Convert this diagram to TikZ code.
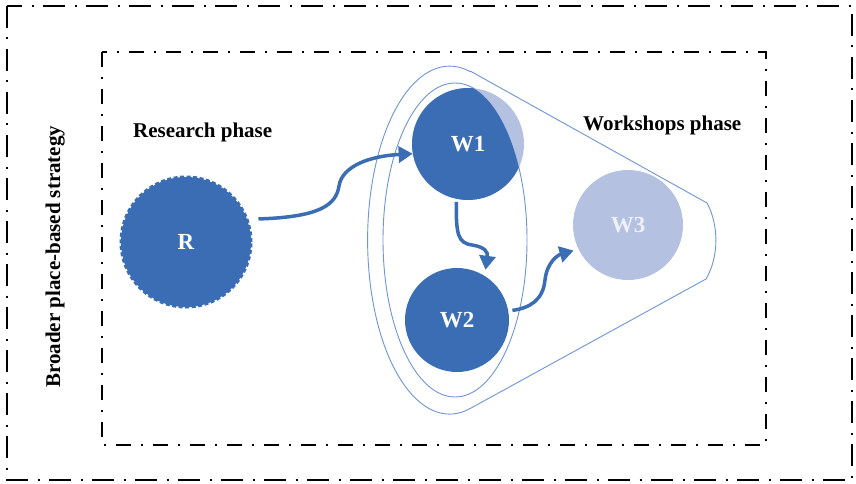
\documentclass[tikz,border=0pt]{standalone}
\usepackage{fontspec}
\setmainfont{Liberation Serif}
\usetikzlibrary{arrows.meta}
\definecolor{darkb}{HTML}{3B6DB5}
\definecolor{lightb}{HTML}{B4C1E1}
\definecolor{lineb}{HTML}{6F95D5}
\definecolor{paletxt}{HTML}{EEF1F8}
\begin{document}
\begin{tikzpicture}[x=1pt,y=-1pt,
  outerbox/.style={draw=black,line width=1.1pt,dash pattern=on 22pt off 9.5pt on 2pt off 9.5pt},
  innerbox/.style={draw=black,line width=1.1pt,dash pattern=on 15pt off 10pt on 2pt off 10pt},
  thinline/.style={draw=lineb,line width=0.9pt},
  wnode/.style={circle,inner sep=0pt,text=white,font=\fontsize{23}{26}\selectfont\bfseries},
  label/.style={font=\fontsize{21}{24}\selectfont\bfseries,inner sep=0pt},
  arr/.style={draw=darkb,line width=3.5pt,-{Triangle[length=14pt,width=16pt]}}]
\useasboundingbox (0,0) rectangle (856,484);
\fill[white] (0,0) rectangle (856,484);
\draw[outerbox] (7,6) rectangle (852,480);
\draw[innerbox] (102,52) rectangle (766,445);
% cone and inner ellipse
\draw[thinline] (470.5,71.2) -- (707,203) .. controls (719,225) and (719,257) .. (706,279)
  -- (470,408.6) arc[start angle=75.6, end angle=284.5, x radius=82, y radius=174] -- cycle;
\draw[thinline] (455,240) ellipse [x radius=72, y radius=157];
% W1: light full circle, dark part clipped by inner ellipse
\fill[lightb] (468,144) circle [radius=56];
\begin{scope}
  \clip (455,240) ellipse [x radius=72, y radius=157];
  \fill[darkb] (468,144) circle [radius=56];
\end{scope}
\node[wnode,minimum size=112pt] (W1) at (468,144) {W1};
\node[wnode,minimum size=104pt,fill=darkb] (W2) at (457,320) {W2};
\node[wnode,minimum size=110pt,fill=lightb,text=paletxt] (W3) at (628,225) {W3};
\node[wnode,minimum size=130pt,fill=darkb,draw=darkb,line width=3pt,dash pattern=on 4pt off 2.5pt] (R) at (186,242) {R};
% labels
\node[label,anchor=base west] (rp) at (133,137) {Research phase};
\node[label,anchor=base west] (wp) at (583,131) {Workshops phase};
\node[label,anchor=base west,rotate=90] (bs) at (60,388) {Broader place-based strategy};
% arrows
\draw[arr,shorten <=10pt] (R.20) .. controls (320,217) and (336,205) .. (339,186)
  .. controls (342,166) and (370,156) .. (W1.190);
\draw[arr,shorten <=3pt,shorten >=6pt] (W1.258) .. controls (456,235) and (458,243) .. (472,245)
  .. controls (485,247) and (488,252) .. (W2.58);
\draw[arr,shorten <=4pt,shorten >=5pt] (W2.10) .. controls (530,308) and (543,300) .. (545,280)
  .. controls (547,262) and (558,255) .. (W3.206);
\end{tikzpicture}
\end{document}
